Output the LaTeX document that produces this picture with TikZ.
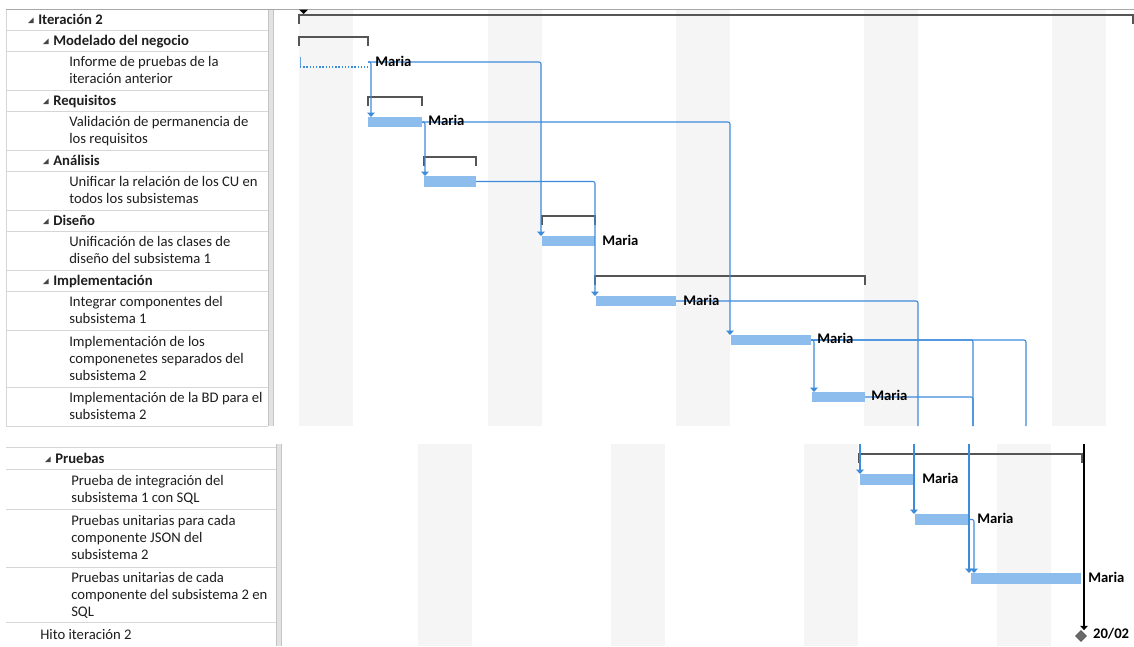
\documentclass[tikz,border=0pt]{standalone}
\usepackage{fontspec}
\setmainfont{Carlito}
\usetikzlibrary{arrows.meta,calc,shapes.geometric}

\definecolor{barblue}{HTML}{8CBDEC}
\definecolor{linkblue}{HTML}{3D8BDB}
\definecolor{summgray}{HTML}{555555}
\definecolor{shade}{HTML}{F5F5F5}
\definecolor{gridgray}{HTML}{D6D6D6}
\definecolor{rulegray}{HTML}{A8A8A8}
\definecolor{splitfill}{HTML}{E2E2E2}
\definecolor{splitline}{HTML}{C4C4C4}
\definecolor{txt}{HTML}{1E1E1E}
\definecolor{toggle}{HTML}{454545}
\definecolor{milestone}{HTML}{6A6A6A}

\tikzset{
  rowtext/.style={anchor=west, inner sep=0pt, align=left, text=txt,
    font=\fontsize{11}{12.75}\selectfont,
    execute at begin node=\strut, execute at end node=\strut},
  grouptext/.style={rowtext, font=\fontsize{11}{12.75}\selectfont\bfseries},
  who/.style={anchor=west, inner sep=0pt, text=black,
    font=\fontsize{11}{12.75}\selectfont\bfseries},
  bar/.style={rectangle, draw=none, fill=barblue, inner sep=0pt,
    outer sep=0pt, anchor=north west},
  summary/.style={draw=summgray, line width=1.8pt},
  link/.style={draw=linkblue, line width=0.8pt, rounded corners=1.5pt},
  linkarrow/.style={link, -{Triangle[width=5.5pt,length=3.2pt]}},
  weekend/.style={fill=shade},
  grid/.style={draw=gridgray, line width=0.75pt},
}

% task bar: name, left x, top y, width, height (all in px)
\newcommand\gbar[5]{\node[bar, minimum width={(#4)*0.75pt},
  minimum height={(#5)*0.75pt}] (#1) at (#2,#3) {};}
% summary bracket: left x, right x, y
\newcommand\summ[3]{\draw[summary] (#1,#3+9) -- (#1,#3) -- (#2,#3) -- (#2,#3+9);}
% outline toggle triangle at x, centre y
\newcommand\toggletri[2]{\fill[toggle] (#1,#2+3) -- (#1+5.5,#2+3) -- (#1+5.5,#2-2.5) -- cycle;}

\begin{document}
\begin{tikzpicture}[x=0.75pt,y=-0.75pt]
\useasboundingbox (0,0) rectangle (1134,646);
\fill[white] (0,0) rectangle (1134,646);

% ---------- upper view ----------
% non-working days
\foreach \a in {299,488,676,864,1052}
  \fill[weekend] (\a,10) rectangle ++(54,416);
% sheet grid
\foreach \r in {30,51,90,111,150,171,210,231,270,291,330,387,426}
  \draw[grid] (6,\r) -- (268,\r);
\draw[grid] (6,9) -- (6,426);
\fill[splitfill] (268,9) rectangle (273,426);
\draw[splitline, line width=0.75pt] (268,9) -- (268,426) (273,9) -- (273,426);
\draw[rulegray, line width=0.75pt] (6,9) -- (1134,9);

% ---------- lower view ----------
\foreach \a in {418,611,804,997}
  \fill[weekend] (\a,444) rectangle ++(54,202);
\foreach \r in {447,469,509,567,622}
  \draw[grid] (6,\r) -- (276,\r);
\fill[splitfill] (276,444) rectangle (281,646);
\draw[splitline, line width=0.75pt] (276,444) -- (276,646) (281,444) -- (281,646);
\coordinate (lowtop) at (0,444);

% ---------- sheet texts ----------
\toggletri{28}{20}
\node[grouptext] (t-iter) at (38,21.5) {Iteración 2};
\toggletri{43}{41}
\node[grouptext] (t-mod) at (53,42.5) {Modelado del negocio};
\node[rowtext] (t-inf) at (69,72.5) {Informe de pruebas de la\\iteración anterior};
\toggletri{43}{101}
\node[grouptext] (t-req) at (53,102.5) {Requisitos};
\node[rowtext] (t-val) at (69,132.5) {Validación de permanencia de\\los requisitos};
\toggletri{43}{161}
\node[grouptext] (t-ana) at (53,162.5) {Análisis};
\node[rowtext] (t-uni) at (69,192.5) {Unificar la relación de los CU en\\todos los subsistemas};
\toggletri{43}{221}
\node[grouptext] (t-dis) at (53,222.5) {Diseño};
\node[rowtext] (t-ucl) at (69,252.5) {Unificación de las clases de\\diseño del subsistema 1};
\toggletri{43}{281}
\node[grouptext] (t-imp) at (53,282.5) {Implementación};
\node[rowtext] (t-int) at (69,312.5) {Integrar componentes del\\subsistema 1};
\node[rowtext] (t-com) at (69,360.5) {Implementación de los\\componenetes separados del\\subsistema 2};
\node[rowtext] (t-bd) at (69,408.5) {Implementación de la BD para el\\subsistema 2};

\toggletri{45}{459}
\node[grouptext] (t-pru) at (55,460) {Pruebas};
\node[rowtext] (t-pin) at (71,491) {Prueba de integración del\\subsistema 1 con SQL};
\node[rowtext] (t-pjs) at (71,540) {Pruebas unitarias para cada\\componente JSON del\\subsistema 2};
\node[rowtext] (t-psq) at (71,596.5) {Pruebas unitarias de cada\\componente del subsistema 2 en\\SQL};
\node[rowtext] (t-hito) at (40,636) {Hito iteración 2};

% ---------- summary brackets ----------
\fill[black] (299,9.5) -- (308,9.5) -- (303.5,14) -- cycle;
\summ{299}{1133}{15}
\summ{299}{368}{37}
\summ{368}{422}{97}
\summ{424}{476}{157}
\summ{542}{595}{216}
\summ{595}{865}{276}
\summ{859}{1082}{454}

% ---------- task bars ----------
\node[inner sep=0pt, outer sep=0pt, minimum width={68*0.75pt},
  minimum height={10*0.75pt}, anchor=north west] (inf) at (300,57) {};
\draw[linkblue!80, line width=0.75pt] (inf.north west) -- (inf.south west);
\draw[linkblue, line width=1pt, dash pattern=on 1pt off 1.4pt]
  (inf.south west) -- (inf.south east);
\gbar{valid}{368}{117}{54}{10}
\gbar{unifr}{424}{176}{52}{11}
\gbar{unifc}{542}{236}{53}{10}
\gbar{integ}{596}{296}{80}{10}
\gbar{compo}{731}{335}{80}{10}
\gbar{bd}{812}{392}{53}{10}
\gbar{pint}{860}{474}{54}{11}
\gbar{pjson}{915}{514}{55}{11}
\gbar{psql}{971}{573}{110}{11}
\node[diamond, fill=milestone, draw=summgray, line width=0.5pt,
  inner sep=0pt, minimum size={11*0.75pt}] (hito) at (1081,636) {};

% ---------- dependency links ----------
\coordinate (cutA) at (918,426);
\coordinate (cutB) at (973,426);
\coordinate (cutC) at (1026,426);
\coordinate (intoval) at ($(valid.north west)+(3,0)$);
\coordinate (intoucl) at ($(unifc.north west)+(-1,0)$);
\coordinate (intouni) at ($(unifr.north west)+(1,0)$);
\coordinate (intocom) at ($(compo.north west)+(-1,0)$);
\coordinate (intoint) at ($(integ.north west)+(-1,0)$);
\coordinate (intobd) at ($(bd.north west)+(2,0)$);
\coordinate (intopin) at (pint.north west);
\coordinate (intopjs) at ($(pjson.north west)+(-1,0)$);
\coordinate (intopsq) at ($(psql.north west)+(-2,0)$);
\coordinate (intopsqb) at ($(psql.north west)+(3,0)$);
\coordinate (intohito) at ($(hito.north)+(3,0)$);

\draw[linkarrow] (inf.east) -| (intoval);
\draw[linkarrow] (inf.east) -| (intoucl);
\draw[linkarrow] (valid.east) -| (intouni);
\draw[linkarrow] (valid.east) -| (intocom);
\draw[linkarrow] (unifr.east) -| (intoint);
\draw[link] (integ.east) -| (cutA);
\draw[linkarrow] (compo.east) -| (intobd);
\draw[link] (compo.east) -| (cutC);
\draw[link] (compo.east) -| (cutB);
\draw[link] (bd.east) -| (cutB);

\draw[linkarrow] (intopin |- lowtop) -- (intopin);
\draw[linkarrow] (intopjs |- lowtop) -- (intopjs);
\draw[linkarrow] (intopsq |- lowtop) -- (intopsq);
\draw[linkarrow] (pjson.east) -| (intopsqb);
\draw[black, line width=0.8pt, -{Triangle[width=5.5pt,length=3.2pt]}]
  (intohito |- lowtop) -- (intohito);

% ---------- resource labels ----------
\node[who] (w-inf) at ($(inf.east)+(7,-1)$) {Maria};
\node[who] (w-val) at ($(valid.east)+(6,-2)$) {Maria};
\node[who] (w-ucl) at ($(unifc.east)+(7,-1)$) {Maria};
\node[who] (w-int) at ($(integ.east)+(7,-1)$) {Maria};
\node[who] (w-com) at ($(compo.east)+(6,-2)$) {Maria};
\node[who] (w-bd) at ($(bd.east)+(6,-2)$) {Maria};
\node[who] (w-pin) at ($(pint.east)+(8,-1.5)$) {Maria};
\node[who] (w-pjs) at ($(pjson.east)+(7,-1.5)$) {Maria};
\node[who] (w-psq) at ($(psql.east)+(7,-1.5)$) {Maria};
\node[who] (w-hito) at ($(hito.east)+(6,-2)$) {20/02};
\end{tikzpicture}
\end{document}
